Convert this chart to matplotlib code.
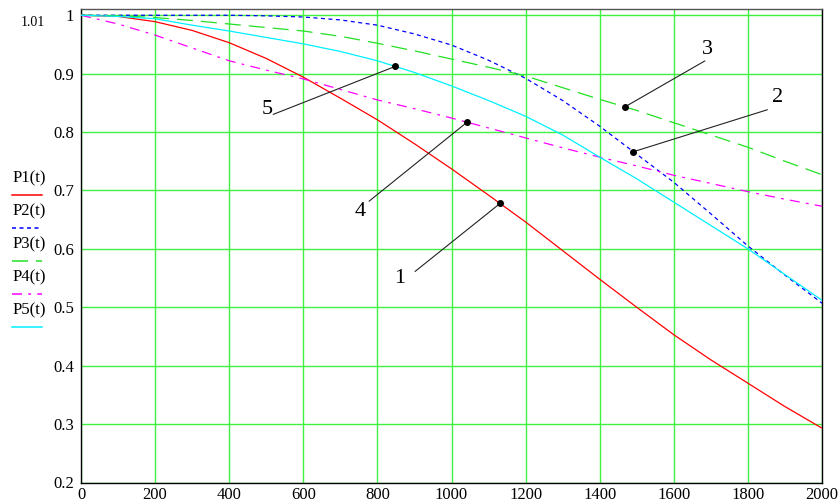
import numpy as np
import matplotlib
matplotlib.use("Agg")
import matplotlib.pyplot as plt
from matplotlib.lines import Line2D

plt.rcParams['lines.scale_dashes'] = False
plt.rcParams['font.family'] = ['Liberation Serif', 'DejaVu Serif']

# время, ч
t = [0, 100, 200, 300, 400, 500, 600, 700, 800, 900, 1000,
     1100, 1200, 1300, 1400, 1500, 1600, 1700, 1800, 1900, 2000]

p1 = [1.0, 0.998, 0.989, 0.974, 0.953, 0.926, 0.894, 0.858, 0.821, 0.780, 0.737,
      0.692, 0.646, 0.597, 0.548, 0.500, 0.453, 0.410, 0.370, 0.330, 0.293]
p2 = [1.0, 1.0, 1.0, 1.0, 1.0, 0.999, 0.997, 0.992, 0.983, 0.968, 0.949,
      0.923, 0.892, 0.854, 0.810, 0.762, 0.714, 0.660, 0.605, 0.555, 0.507]
p3 = [1.0, 0.999, 0.996, 0.991, 0.985, 0.979, 0.973, 0.964, 0.952, 0.939, 0.925,
      0.911, 0.896, 0.876, 0.856, 0.837, 0.816, 0.795, 0.774, 0.750, 0.727]
p4 = [1.0, 0.985, 0.966, 0.944, 0.922, 0.906, 0.891, 0.873, 0.855, 0.840, 0.824,
      0.807, 0.790, 0.773, 0.757, 0.742, 0.726, 0.712, 0.698, 0.685, 0.673]
p5 = [1.0, 0.998, 0.994, 0.983, 0.973, 0.962, 0.951, 0.938, 0.922, 0.902, 0.879,
      0.854, 0.827, 0.795, 0.757, 0.720, 0.680, 0.640, 0.600, 0.556, 0.512]

names = ["P1(t)", "P2(t)", "P3(t)", "P4(t)", "P5(t)"]
xticks = [0, 200, 400, 600, 800, 1000, 1200, 1400, 1600, 1800, 2000]
yticks = [0.2, 0.3, 0.4, 0.5, 0.6, 0.7, 0.8, 0.9, 1.0]
ytick_labels = ["0.2", "0.3", "0.4", "0.5", "0.6", "0.7", "0.8", "0.9", "1"]

# метки кривых: номер, кривая, t точки
marks = [("1", 0, 1131), ("2", 1, 1491), ("3", 2, 1468), ("4", 3, 1042), ("5", 4, 848)]
# смещения (пиксели): начало выноски, центр надписи
mark_offs = {"1": ((-85, -68), (-100, -75)),
             "2": ((134, 42), (144, 54)),
             "3": ((80, 46), (83, 57)),
             "4": ((-98, -79), (-107, -89)),
             "5": ((-122, -48), (-128, -43))}

colors = ['#ff0000', '#0000ff', '#22e022', '#ff00ff', '#00f0ff']
styles = ['-', (0, (2.9, 2.5)), (0, (11.5, 5.8)), (0, (7.2, 4.5, 2.0, 4.5)), '-']

W, H = 839, 504
fig = plt.figure(figsize=(W / 100, H / 100), dpi=100)
ax = fig.add_axes([81 / W, (H - 482.5) / H, (822 - 81) / W, (482.5 - 9.4) / H])

series = [p1, p2, p3, p4, p5]
for s, c, ls in zip(series, colors, styles):
    ax.plot(t, s, color=c, linestyle=ls, lw=0.9, zorder=3)

ax.set_xlim(0, 2000)
ax.set_ylim(0.2, 1.01)
ax.set_xticks(xticks)
ax.set_yticks(yticks)
ax.set_yticklabels(ytick_labels)
ax.grid(True, color='#40f040', lw=1.0, zorder=1)
ax.set_axisbelow(True)
ax.tick_params(length=0, labelsize=12)
ax.tick_params(axis='y', pad=5)
ax.tick_params(axis='x', pad=3)
for sp in ax.spines.values():
    sp.set_color('black')
    sp.set_linewidth(1.0)
ax.spines['top'].set_color('#555555')

# верхний предел оси
fig.text(33 / W, 1 - 23 / H, "1.01", fontsize=10, ha='center', va='center')

# выноски
for lab, idx, tm in marks:
    ym = np.interp(tm, t, series[idx])
    (sx, sy), (lx, ly) = mark_offs[lab]
    ax.annotate('', xy=(tm, ym), xytext=(sx, sy), textcoords='offset pixels',
                arrowprops=dict(arrowstyle='-', color='#222222', lw=0.8,
                                shrinkA=0, shrinkB=0), zorder=4)
    ax.plot([tm], [ym], 'o', color='black', ms=4, zorder=5)
    ax.annotate(lab, xy=(tm, ym), xytext=(lx, ly), textcoords='offset pixels',
                ha='center', va='center', fontsize=16)

# легенда слева
for i, (nm, c, ls) in enumerate(zip(names, colors, styles)):
    ty = 178 + i * 33
    ly = 195 + i * 33
    fig.text(13 / W, 1 - ty / H, nm, fontsize=12, ha='left', va='center')
    fig.add_artist(Line2D([12 / W, 42 / W], [1 - ly / H, 1 - ly / H],
                          transform=fig.transFigure, color=c, linestyle=ls, lw=1.1))

fig.savefig("out.png", dpi=100)
